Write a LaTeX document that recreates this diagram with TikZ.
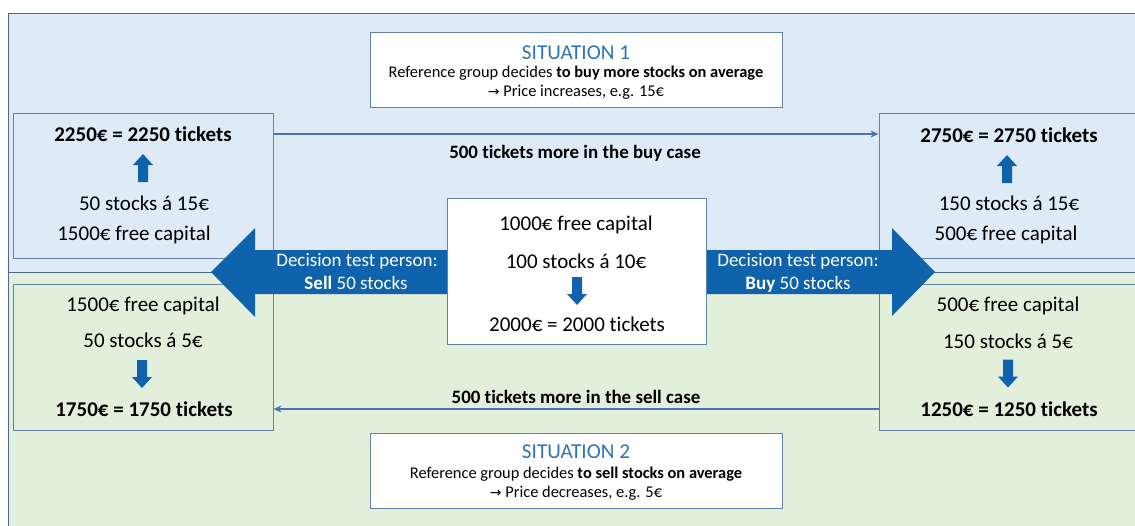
\documentclass[tikz,border=0pt]{standalone}
\usepackage{fontspec}
\setmainfont{Carlito}[Ligatures=NoCommon]
\newfontfamily\symfont{DejaVu Sans}
\usetikzlibrary{arrows.meta}

\definecolor{bgblue}{HTML}{DEEBF7}
\definecolor{bggreen}{HTML}{E2EFDA}
\definecolor{framecol}{HTML}{46698F}
\definecolor{boxcol}{HTML}{6282AD}
\definecolor{linkcol}{HTML}{4A72B0}
\definecolor{arrowblue}{HTML}{0F62AC}
\definecolor{headcol}{HTML}{2E75B6}

\newcommand\rarr{{\symfont\fontsize{14}{17}\selectfont →}}

\tikzset{
  panel/.style={draw=boxcol, line width=1pt, minimum width=260pt, minimum height=145pt, inner sep=0pt},
  whitebox/.style={panel, fill=white},
  txt/.style={inner sep=0pt, font=\fontsize{21}{25}\selectfont},
  btxt/.style={inner sep=0pt, font=\fontsize{21}{25}\selectfont\bfseries},
  small/.style={inner sep=0pt, font=\fontsize{16.4}{19}\selectfont},
  headtxt/.style={inner sep=0pt, text=headcol, font=\fontsize{21.2}{25}\selectfont},
  arrtxt/.style={inner sep=0pt, text=white, font=\fontsize{19}{23}\selectfont},
  linktxt/.style={inner sep=0pt, font=\fontsize{18.9}{23}\selectfont\bfseries},
  conn/.style={draw=linkcol, line width=1.4pt, -{Stealth[length=8pt,width=7pt]}},
  pics/uparr/.style={code={
    \fill[arrowblue] (-5,14) -- (-5,-3) -- (-10,-3) -- (0,-14) -- (10,-3) -- (5,-3) -- (5,14) -- cycle;}},
  pics/downarr/.style={code={
    \fill[arrowblue] (-5,-14) -- (-5,3) -- (-10,3) -- (0,14) -- (10,3) -- (5,3) -- (5,-14) -- cycle;}},
}

\begin{document}
\begin{tikzpicture}[x=1pt, y=-1pt]
\useasboundingbox (0,0) rectangle (1135,525);
\begin{scope}
\clip (0,0) rectangle (1135,525);

% two background regions
\fill[bgblue] (8,13) rectangle (1145,272);
\fill[bggreen] (8,272) rectangle (1145,530);
\draw[framecol, line width=1pt] (1145,13) -- (8,13) -- (8,530);
\draw[framecol, line width=1pt] (8,272) -- (1145,272);

% situation boxes
\node[whitebox, minimum width=412pt, minimum height=75pt] (s1) at (576,69.5) {};
\node[headtxt] (s1a) at (576,53) {SITUATION 1};
\node[small] (s1b) at (576,73) {Reference group decides \textbf{to buy more stocks on average}};
\node[small] (s1c) at (576,92) {\rarr\ Price increases, e.g. 15€};

\node[whitebox, minimum width=412pt, minimum height=75pt] (s2) at (576,470.5) {};
\node[headtxt] (s2a) at (576,452) {SITUATION 2};
\node[small] (s2b) at (576,474) {Reference group decides \textbf{to sell stocks on average}};
\node[small] (s2c) at (576,493) {\rarr\ Price decreases, e.g. 5€};

% outcome panels
\node[panel] (tl) at (143,185.5) {};
\node[panel, minimum width=266pt] (tr) at (1012,185.5) {};
\node[panel, minimum height=146pt] (bl) at (143,357) {};
\node[panel, minimum width=266pt, minimum height=146pt] (br) at (1012,357) {};

% top left panel
\node[btxt] (tlA) at (143,134) {2250€ = 2250 tickets};
\pic at (143,168) {uparr};
\node[txt] (tlB) at (144,203) {50 stocks á 15€};
\node[txt] (tlC) at (134,235) {1500€ free capital};

% top right panel
\node[btxt] (trA) at (1009,135) {2750€ = 2750 tickets};
\pic at (1007,169) {uparr};
\node[txt] (trB) at (1009,203) {150 stocks á 15€};
\node[txt] (trC) at (1006,235) {500€ free capital};

% bottom left panel
\node[txt] (blA) at (143,306) {1500€ free capital};
\node[txt] (blB) at (143,340) {50 stocks á 5€};
\pic at (142,374) {downarr};
\node[btxt] (blC) at (144,409) {1750€ = 1750 tickets};

% bottom right panel
\node[txt] (brA) at (1008,306) {500€ free capital};
\node[txt] (brB) at (1008,341) {150 stocks á 5€};
\pic at (1008,373.5) {downarr};
\node[btxt] (brC) at (1009,409) {1250€ = 1250 tickets};

% decision arrows
\fill[arrowblue] (447,250) -- (255,250) -- (255,228) -- (211,272) -- (255,317) -- (255,294) -- (447,294) -- cycle;
\fill[arrowblue] (706,250) -- (892,250) -- (892,228) -- (935,272) -- (892,316) -- (892,294) -- (706,294) -- cycle;
\node[arrtxt] (sellA) at (357,261) {Decision test person:};
\node[arrtxt] (sellB) at (356,283) {\textbf{Sell} 50 stocks};
\node[arrtxt] (buyA) at (798,261) {Decision test person:};
\node[arrtxt] (buyB) at (798,284) {\textbf{Buy} 50 stocks};

% starting position
\node[whitebox, minimum width=259pt, minimum height=146pt] (mid) at (576.5,271) {};
\node[txt] (midA) at (576,225) {1000€ free capital};
\node[txt] (midB) at (576,261) {100 stocks á 10€};
\pic at (577,291) {downarr};
\node[txt] (midC) at (577,324) {2000€ = 2000 tickets};

% ticket differences
\draw[conn] (tl.east |- tlA) -- (tr.west |- tlA);
\node[linktxt] (buyDiff) at (575,153) {500 tickets more in the buy case};
\draw[conn] (br.west |- blC) -- (bl.east |- blC);
\node[linktxt] (sellDiff) at (576,397) {500 tickets more in the sell case};
\end{scope}
\end{tikzpicture}
\end{document}
